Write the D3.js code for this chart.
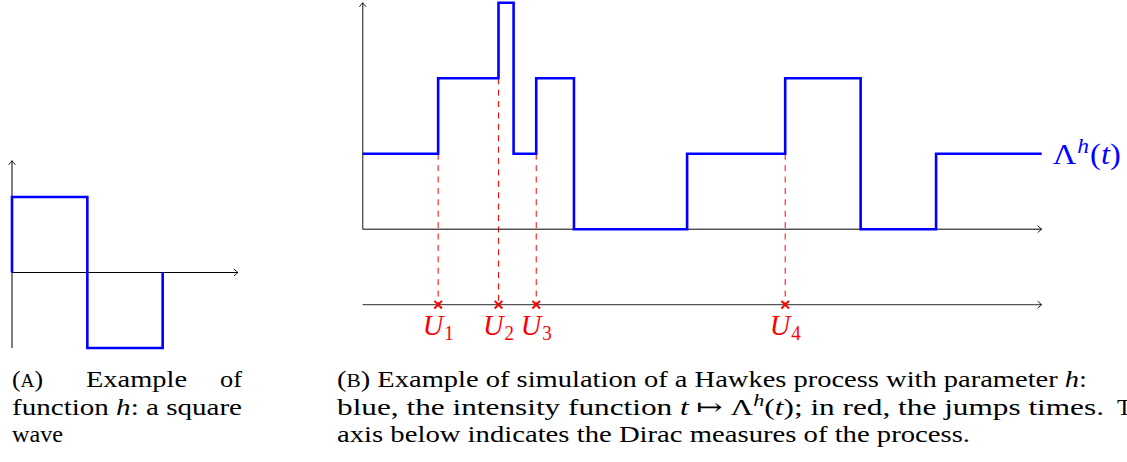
<!DOCTYPE html>
<html lang="en">
<head>
    <meta charset="UTF-8">
    <title>Square wave and Hawkes process</title>
    <script src="https://d3js.org/d3.v7.min.js"></script>
    <style>
        body { margin: 0; background: #fff; }
        svg { display: block; background: #fff; }
        .cap { font-family: "Liberation Serif", "DejaVu Serif", serif; font-size: 24px; fill: #000; }
        .math { font-family: "Liberation Serif", "DejaVu Serif", serif; }
        .it { font-style: italic; }
    </style>
</head>
<body>
<svg id="fig" width="1127" height="462"></svg>
<script>
    // (A) square wave h: value on each unit interval
    const hTimes = [0, 1, 2];
    const hValues = [1, -1];

    // (B) intensity Lambda^h(t): breakpoints and level on each piece
    const lambdaTimes = [0, 1, 1.8, 2, 2.3, 2.8, 4.3, 5.6, 6.6, 7.6, 9];
    const lambdaLevels = [1, 2, 3, 1, 2, 0, 1, 2, 0, 1];

    // jump times U_i
    const jumpTimes = [1, 1.8, 2.3, 5.6];
    const jumpLabels = ["1", "2", "3", "4"];

    const svg = d3.select("#fig");

    // arrow head like tikz "->"
    svg.append("defs").append("marker")
        .attr("id", "arr")
        .attr("viewBox", "-6 -5 8 10")
        .attr("markerUnits", "userSpaceOnUse")
        .attr("markerWidth", 8).attr("markerHeight", 10)
        .attr("refX", 0).attr("refY", 0)
        .attr("orient", "auto")
        .append("path")
        .attr("d", "M-4,-3.4 Q-1.2,-0.9 0,0 Q-1.2,0.9 -4,3.4")
        .attr("fill", "none").attr("stroke", "#000").attr("stroke-width", 0.9);

    const line = d3.line().x(d => d[0]).y(d => d[1]);

    // ---------- (A) ----------
    const xA = d3.scaleLinear().domain([0, 3]).range([12, 238]);
    const yA = d3.scaleLinear().domain([-1, 1]).range([348, 197]);
    const gA = svg.append("g");

    gA.append("line")
        .attr("x1", xA(0)).attr("x2", xA(3))
        .attr("y1", yA(0)).attr("y2", yA(0))
        .attr("stroke", "#000").attr("stroke-width", 1)
        .attr("marker-end", "url(#arr)");
    gA.append("line")
        .attr("x1", xA(0)).attr("x2", xA(0))
        .attr("y1", yA(-1)).attr("y2", yA(1.48))
        .attr("stroke", "#000").attr("stroke-width", 1)
        .attr("marker-end", "url(#arr)");

    const hPts = [[0, 0]];
    hValues.forEach((v, i) => { hPts.push([hTimes[i], v], [hTimes[i + 1], v]); });
    hPts.push([hTimes[hTimes.length - 1], 0]);
    gA.append("path")
        .attr("d", line(hPts.map(p => [xA(p[0]), yA(p[1])])))
        .attr("fill", "none").attr("stroke", "#0000ff").attr("stroke-width", 2.6);

    // ---------- (B) ----------
    const xB = d3.scaleLinear().domain([0, 9]).range([362.7, 1041.7]);
    const yB = d3.scaleLinear().domain([0, 3]).range([229.2, 2.8]);
    const gB = svg.append("g");

    // dashed red lines from the jump down to the lower axis
    gB.selectAll(".jump")
        .data(jumpTimes)
        .enter().append("line")
        .attr("class", "jump")
        .attr("x1", d => xB(d)).attr("x2", d => xB(d))
        .attr("y1", d => yB(lambdaLevels[lambdaTimes.indexOf(d) - 1]))
        .attr("y2", yB(-1))
        .attr("stroke", "#ff0000").attr("stroke-width", 1)
        .attr("stroke-dasharray", "6,5.4");

    // axes
    gB.append("line")
        .attr("x1", xB(0)).attr("x2", xB(9))
        .attr("y1", yB(0)).attr("y2", yB(0))
        .attr("stroke", "#000").attr("stroke-width", 1)
        .attr("marker-end", "url(#arr)");
    gB.append("line")
        .attr("x1", xB(0)).attr("x2", xB(0))
        .attr("y1", yB(0)).attr("y2", yB(3))
        .attr("stroke", "#555").attr("stroke-width", 1.4)
        .attr("marker-end", "url(#arr)");
    gB.append("line")
        .attr("x1", xB(0)).attr("x2", xB(9))
        .attr("y1", yB(-1)).attr("y2", yB(-1))
        .attr("stroke", "#555").attr("stroke-width", 1.4)
        .attr("marker-end", "url(#arr)");

    // intensity
    const lPts = [];
    lambdaLevels.forEach((v, i) => { lPts.push([lambdaTimes[i], v], [lambdaTimes[i + 1], v]); });
    gB.append("path")
        .attr("d", line(lPts.map(p => [xB(p[0]), yB(p[1])])))
        .attr("fill", "none").attr("stroke", "#0000ff").attr("stroke-width", 2.6);

    // label Lambda^h(t)
    const lab = gB.append("text").attr("class", "math")
        .attr("x", xB(9) + 11).attr("y", 164)
        .attr("font-size", 29).attr("fill", "#0000ff")
        .attr("textLength", 68).attr("lengthAdjust", "spacingAndGlyphs");
    lab.append("tspan").text("Λ");
    lab.append("tspan").attr("class", "it").attr("font-size", 21).attr("dy", -11).attr("dx", 1).text("h");
    lab.append("tspan").attr("dy", 11).attr("dx", 1).text("(");
    lab.append("tspan").attr("class", "it").text("t");
    lab.append("tspan").text(")");

    // crosses on the lower axis
    gB.selectAll(".cross")
        .data(jumpTimes)
        .enter().append("path")
        .attr("class", "cross")
        .attr("transform", d => `translate(${xB(d)},${yB(-1)})`)
        .attr("d", "M-3.8,-3.8L3.8,3.8M-3.8,3.8L3.8,-3.8")
        .attr("stroke", "#ff0000").attr("stroke-width", 2);

    // U_i labels
    const uLab = gB.selectAll(".ulab")
        .data(jumpTimes)
        .enter().append("text")
        .attr("class", "ulab math")
        .attr("x", d => xB(d)).attr("y", 335)
        .attr("text-anchor", "middle")
        .attr("font-size", 30).attr("fill", "#ff0000")
        .attr("textLength", 31).attr("lengthAdjust", "spacingAndGlyphs");
    uLab.append("tspan").attr("class", "it").text("U");
    uLab.append("tspan").attr("font-size", 20).attr("dy", 5).attr("dx", 1).text((d, i) => jumpLabels[i]);

    // ---------- captions ----------
    const cap = svg.append("g").attr("class", "cap");

    const a1 = cap.append("text").attr("x", 12).attr("y", 387)
        .attr("textLength", 31).attr("lengthAdjust", "spacingAndGlyphs");
    a1.append("tspan").text("(");
    a1.append("tspan").attr("font-size", 18).text("A");
    a1.append("tspan").text(")");
    cap.append("text").attr("x", 86).attr("y", 387)
        .attr("textLength", 101).attr("lengthAdjust", "spacingAndGlyphs").text("Example");
    cap.append("text").attr("x", 220).attr("y", 387)
        .attr("textLength", 22).attr("lengthAdjust", "spacingAndGlyphs").text("of");

    const a2 = cap.append("text").attr("x", 12).attr("y", 415)
        .attr("textLength", 230).attr("lengthAdjust", "spacingAndGlyphs");
    a2.append("tspan").text("function ");
    a2.append("tspan").attr("class", "it").text("h");
    a2.append("tspan").text(": a square");

    cap.append("text").attr("x", 12).attr("y", 442)
        .attr("textLength", 51).attr("lengthAdjust", "spacingAndGlyphs").text("wave");

    const b1 = cap.append("text").attr("x", 337).attr("y", 387)
        .attr("textLength", 750).attr("lengthAdjust", "spacingAndGlyphs");
    b1.append("tspan").text("(");
    b1.append("tspan").attr("font-size", 18).text("B");
    b1.append("tspan").text(") Example of simulation of a Hawkes process with parameter ");
    b1.append("tspan").attr("class", "it").text("h");
    b1.append("tspan").text(":");

    const b2 = cap.append("text").attr("x", 337).attr("y", 415)
        .attr("textLength", 767).attr("lengthAdjust", "spacingAndGlyphs");
    b2.append("tspan").text("blue, the intensity function ");
    b2.append("tspan").attr("class", "it").text("t");
    b2.append("tspan").text(" ↦ Λ");
    b2.append("tspan").attr("class", "it").attr("font-size", 17).attr("dy", -9).text("h");
    b2.append("tspan").attr("dy", 9).text("(");
    b2.append("tspan").attr("class", "it").text("t");
    b2.append("tspan").text("); in red, the jumps times.");
    cap.append("text").attr("x", 1117).attr("y", 415).text("The");

    cap.append("text").attr("x", 337).attr("y", 442)
        .attr("textLength", 633).attr("lengthAdjust", "spacingAndGlyphs")
        .text("axis below indicates the Dirac measures of the process.");
</script>
</body>
</html>
